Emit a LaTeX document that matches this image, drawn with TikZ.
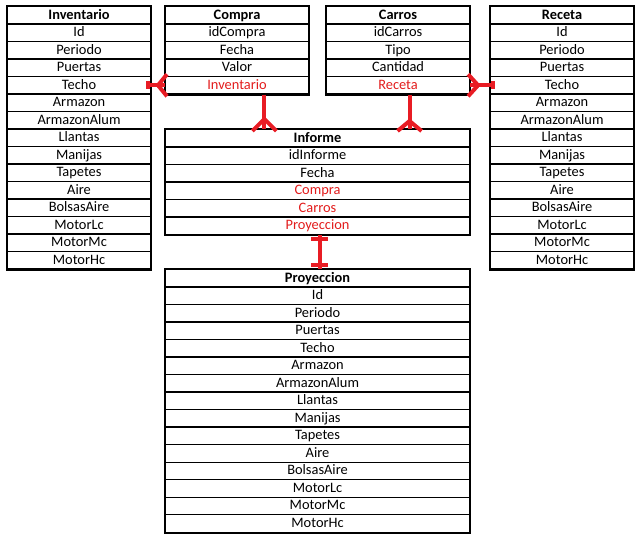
\documentclass[tikz,border=0pt]{standalone}
\usepackage{fontspec}
\setmainfont{Carlito}
\usetikzlibrary{calc}

\definecolor{fk}{RGB}{226,28,28}
\definecolor{rel}{RGB}{232,28,36}

\tikzset{
  cell/.style={draw=black, line width=0.8pt, inner sep=0pt,
    minimum height={17.5*0.75pt}, anchor=north west,
    text height=8pt, text depth=2pt,
    font=\fontsize{10.8}{13}\selectfont},
  frame/.style={draw=black, line width=1.5pt},
  relline/.style={draw=rel, line width=3pt, line join=round},
}

% #1 name, #2 left x, #3 top y, #4 width, #5 last row index, #6 rows (header first)
\newcommand\erTable[6]{%
  \foreach \f [count=\i from 0] in {#6} {
    \node[cell, minimum width={#4*0.75pt}] (#1-\i) at (#2,{#3+\i*17.5}) {\f};
  }
  \draw[frame] (#1-0.north west) rectangle (#1-#5.south east);
}

\begin{document}
\begin{tikzpicture}[x=0.75pt, y=-0.75pt]
  \useasboundingbox (0,0) rectangle (643,538);

  \erTable{inv}{7}{6}{143}{14}{\textbf{Inventario}, Id, Periodo, Puertas, Techo, Armazon,
    ArmazonAlum, Llantas, Manijas, Tapetes, Aire, BolsasAire, MotorLc, MotorMc, MotorHc}
  \erTable{cmp}{165}{6}{143}{4}{\textbf{Compra}, idCompra, Fecha, Valor, {\color{fk}Inventario}}
  \erTable{car}{326}{6}{143}{4}{\textbf{Carros}, idCarros, Tipo, Cantidad, {\color{fk}Receta}}
  \erTable{rec}{490}{6}{143}{14}{\textbf{Receta}, Id, Periodo, Puertas, Techo, Armazon,
    ArmazonAlum, Llantas, Manijas, Tapetes, Aire, BolsasAire, MotorLc, MotorMc, MotorHc}
  \erTable{inf}{165}{129}{304}{5}{\textbf{Informe}, idInforme, Fecha,
    {\color{fk}Compra}, {\color{fk}Carros}, {\color{fk}Proyeccion}}
  \erTable{pro}{165}{269}{304}{14}{\textbf{Proyeccion}, Id, Periodo, Puertas, Techo, Armazon,
    ArmazonAlum, Llantas, Manijas, Tapetes, Aire, BolsasAire, MotorLc, MotorMc, MotorHc}

  % Compra.Inventario -> Inventario.Techo (many on the Compra side)
  \draw[relline] ($(inv-4.east)+(-3,0)$) -- (cmp-4.west);
  \draw[relline] ($(inv-4.east)+(-3,-4)$) -- ($(inv-4.east)+(-3,4)$);
  \draw[relline] ($(cmp-4.west)+(2,-11)$) -- ($(cmp-4.west)+(-7,0)$) -- ($(cmp-4.west)+(2,11)$);

  % Carros.Receta -> Receta.Techo (many on the Carros side)
  \draw[relline] (car-4.east) -- ($(rec-4.west)+(3,0)$);
  \draw[relline] ($(rec-4.west)+(3,-4)$) -- ($(rec-4.west)+(3,4)$);
  \draw[relline] ($(car-4.east)+(-2,-11)$) -- ($(car-4.east)+(8,0)$) -- ($(car-4.east)+(-2,11)$);

  % Compra -> Informe (many on the Informe side)
  \coordinate (cmpA) at ($(cmp-4.south west)!0.69!(cmp-4.south east)$);
  \coordinate (cmpB) at (cmpA |- inf-0.north);
  \draw[relline] (cmpA) -- (cmpB);
  \draw[relline] ($(cmpB)+(-12,2)$) -- ($(cmpB)+(0,-10)$) -- ($(cmpB)+(12,2)$);

  % Carros -> Informe (many on the Informe side)
  \coordinate (carA) at ($(car-4.south west)!0.58!(car-4.south east)$);
  \coordinate (carB) at (carA |- inf-0.north);
  \draw[relline] (carA) -- (carB);
  \draw[relline] ($(carB)+(-12,2)$) -- ($(carB)+(0,-8)$) -- ($(carB)+(12,2)$);

  % Informe.Proyeccion -> Proyeccion (one to one)
  \draw[relline] ($(inf-5.south)+(2,0)$) -- ($(pro-0.north)+(2,0)$);
  \draw[relline] ($(inf-5.south)+(-6.5,3.5)$) -- ($(inf-5.south)+(10.5,3.5)$);
  \draw[relline] ($(pro-0.north)+(-6.5,-3.5)$) -- ($(pro-0.north)+(10.5,-3.5)$);
\end{tikzpicture}
\end{document}
